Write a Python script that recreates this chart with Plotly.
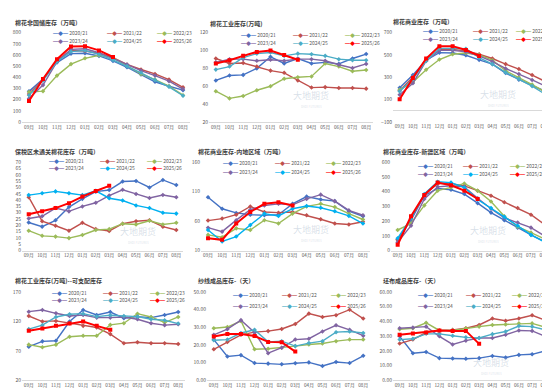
import plotly.graph_objects as go

months = ["09月", "10月", "11月", "12月", "01月", "02月", "03月", "04月", "05月", "06月", "07月", "08月"]
seasons = ["2020/21", "2021/22", "2022/23", "2023/24", "2024/25", "2025/26"]

# Panel 1: 棉花非国储库存（万吨）
p1 = {
    "2020/21": [274, 385, 532, 612, 615, 591, 547, 490, 425, 360, 320, 285],
    "2021/22": [250, 380, 550, 640, 635, 615, 575, 515, 470, 430, 380, 310],
    "2022/23": [268, 276, 415, 518, 570, 597, 576, 505, 430, 380, 320, 240],
    "2023/24": [210, 330, 540, 650, 655, 620, 570, 515, 460, 415, 365, 295],
    "2024/25": [240, 370, 540, 630, 640, 605, 555, 500, 440, 375, 315, 235],
    "2025/26": [188, 385, 562, 676, 679, 641, 582],
}
# Panel 2: 棉花工业库存(万吨)
p2 = {
    "2020/21": [66.5, 72, 72.7, 80, 93, 85.5, 91, 85.5, 86.7, 85, 91, 96],
    "2021/22": [91, 85.5, 86, 82, 77.5, 75, 66.5, 58.5, 59, 58, 58, 57.3],
    "2022/23": [54.4, 46.4, 49, 55.5, 60, 68.4, 70, 71, 85.5, 82, 76.8, 78.2],
    "2023/24": [86.7, 90.3, 90.3, 88.5, 89.6, 88.5, 90.3, 90.3, 88.5, 84, 80.4, 85],
    "2024/25": [78.6, 82, 92, 96.5, 97.7, 94, 96.5, 95.8, 94, 90.3, 89, 89],
    "2025/26": [85.5, 89, 94, 98.4, 100, 95, 89.6],
}
# Panel 3: 棉花商业库存（万吨）
p3 = {
    "2020/21": [206, 321, 453, 521, 518, 497, 456, 418, 338, 279, 226, 174],
    "2021/22": [182, 300, 462, 550, 550, 535, 506, 468, 418, 374, 320, 262],
    "2022/23": [188, 256, 368, 459, 506, 518, 500, 453, 359, 300, 235, 168],
    "2023/24": [144, 247, 447, 541, 541, 529, 491, 441, 379, 329, 276, 221],
    "2024/25": [174, 285, 447, 559, 559, 556, 476, 418, 344, 285, 221, 147],
    "2025/26": [103, 294, 468, 579, 579, 544, 491],
}
# Panel 4: 保税区未通关棉花库存（万吨）
p4 = {
    "2020/21": [22.3, 19, 24, 34.5, 41, 46.7, 48, 54.7, 55.2, 50, 56, 51.9],
    "2021/22": [42.3, 23.3, 19.7, 15.8, 22, 17, 15.6, 21.3, 23.3, 24, 19, 16.3],
    "2022/23": [15.8, 11.7, 11.1, 9.9, 12.4, 16.3, 17, 21.3, 20.7, 23.6, 20.7, 22],
    "2023/24": [25.4, 27.2, 33.7, 31.1, 35, 37.9, 43.6, 48.2, 44.9, 41.7, 44, 42.3],
    "2024/25": [44, 45.4, 46.9, 45.4, 44, 47.4, 41.5, 39.7, 35.8, 33.7, 30, 29.3],
    "2025/26": [28.8, 31.1, 33.7, 37.6, 42.8, 47.2, 51.3],
}
# Panel 5: 棉花商业库存-内地区域（万吨）
p5 = {
    "2020/21": [100.6, 81, 74, 71, 70, 71, 89.4, 101.7, 96.7, 94, 77, 68.3],
    "2021/22": [61, 64.4, 71, 85, 75.6, 74.4, 75.6, 70, 63.3, 56, 54.4, 59],
    "2022/23": [36.7, 32.8, 47.8, 45, 61.7, 56, 72.8, 85, 89.4, 83.9, 72.8, 62.8],
    "2023/24": [48.9, 42.2, 61.7, 79.4, 86.7, 89.4, 87.8, 97.8, 105, 94, 78.3, 70],
    "2024/25": [45, 25.6, 33.9, 53.3, 72.8, 68.9, 81.1, 85.6, 82.8, 76.7, 68.9, 56],
    "2025/26": [31.1, 28.3, 56, 75.6, 89.4, 92.2, 86.7],
}
# Panel 6: 棉花商业库存-新疆区域（万吨）
p6 = {
    "2020/21": [73, 207, 373, 422, 413, 384, 322, 258, 207, 156, 107, 62],
    "2021/22": [73, 218, 378, 455, 455, 440, 407, 373, 329, 289, 244, 178],
    "2022/23": [140, 184, 307, 407, 429, 456, 407, 333, 233, 162, 122, 80],
    "2023/24": [56, 169, 351, 433, 440, 433, 356, 284, 222, 191, 156, 100],
    "2024/25": [84, 218, 384, 467, 462, 429, 347, 289, 229, 169, 107, 58],
    "2025/26": [40, 233, 378, 462, 444, 407, 351],
}
# Panel 7: 棉花工业库存(万吨)--可支配库存
p7 = {
    "2020/21": [77, 86, 87, 119.6, 139.2, 130.8, 135.8, 125.2, 128, 126.3, 130.8, 135.8],
    "2021/22": [129, 119.6, 120.7, 116.8, 112.3, 109.5, 98.3, 82.7, 84.4, 82.7, 82.7, 81.6],
    "2022/23": [80.4, 76, 80.4, 93.9, 95.5, 95.5, 114, 116.8, 133, 127.4, 117.9, 127.4],
    "2023/24": [136.4, 139.2, 133.6, 129.1, 130.8, 126.3, 126.3, 127.4, 123.5, 116.8, 113.5, 115.1],
    "2024/25": [106.7, 113.5, 127.4, 131.9, 133, 128, 130.2, 129.1, 128, 123.5, 121.8, 116.2],
    "2025/26": [103.9, 107.9, 112.3, 116.2, 119.6, 112.3, 105.6],
}
# Panel 8: 纱线成品库存-（天）
p8 = {
    "2020/21": [23, 13.4, 14.2, 9.7, 9.4, 9, 9.6, 10.1, 8.1, 10.3, 9.7, 13.8],
    "2021/22": [17.5, 21.7, 25.7, 27.2, 27.8, 29, 31.8, 37.7, 35.8, 36.8, 39.9, 34.9],
    "2022/23": [29.4, 30.1, 33.5, 17.5, 17.8, 18.4, 19.3, 20.2, 20.8, 22.1, 23, 23],
    "2023/24": [25.7, 28.9, 34, 27, 15.3, 18.4, 23, 23.5, 27.6, 31.1, 28.5, 25.2],
    "2024/25": [22.6, 23, 26.7, 28.5, 21.7, 22.1, 19.3, 21, 22.1, 27.2, 27.6, 26.7],
    "2025/26": [24.8, 26.1, 26.1, 25, 21.7, 21.5, 16.2],
}
# Panel 9: 坯布成品库存-（天）
p9 = {
    "2020/21": [29.8, 18.3, 19.2, 15, 14.8, 14.6, 15, 16.5, 15.4, 17.2, 17.6, 19.9],
    "2021/22": [24.9, 27.6, 32.4, 33.8, 34.2, 35.3, 37.5, 41.9, 40.4, 41.9, 44.1, 40.8],
    "2022/23": [34.6, 35.3, 39, 33.8, 33.8, 35.3, 36.4, 37.5, 37.9, 38.6, 38.6, 36],
    "2023/24": [35.3, 35.7, 36.4, 29.8, 24.3, 26.9, 28.7, 28.7, 30.9, 33.8, 33.5, 29.8],
    "2024/25": [27.6, 28.2, 31.5, 31.5, 30.2, 29.1, 28.7, 31.3, 33.1, 36.8, 36.4, 34.2],
    "2025/26": [30.9, 31.8, 32.4, 33.8, 33.5, 33.5, 24.7],
}

titles = ["棉花非国储库存（万吨）", "棉花工业库存(万吨)", "棉花商业库存（万吨）",
          "保税区未通关棉花库存（万吨）", "棉花商业库存-内地区域（万吨）", "棉花商业库存-新疆区域（万吨）",
          "棉花工业库存(万吨)--可支配库存", "纱线成品库存-（天）", "坯布成品库存-（天）"]
datasets = [p1, p2, p3, p4, p5, p6, p7, p8, p9]

colors = ["#4472C4", "#C0504D", "#9BBB59", "#8064A2", "#4BACC6", "#FF0000"]
bright_cyan = "#00B0F0"

W, H = 550, 388
FONT = "Noto Sans CJK SC, Noto Sans, sans-serif"

# layout geometry (pixels)
xdoms = [(14, 182), (201, 365), (385, 544),
         (14, 175), (193, 362), (383, 543),
         (14, 177), (199, 362), (385, 544)]
ydoms = [(21, 112), (153, 243), (285, 375)]
yranges = [(0, 800), (20, 120), (-100, 700), (0, 70), (10, 160), (0, 600), (20, 170), (0, 50), (0, 60)]
ydticks = [100, 20, 200, 5, 50, 100, 50, 10, 10]
title_pos = [(5, 11), (200, 12), (383, 10), (5, 142), (188, 142), (373, 142), (5, 273), (188, 273), (373, 273)]
leg_cols = [(29, 83, 133), (30, 82, 134), (28, 78, 121), (25, 76, 123), (20, 72, 123),
            (25, 70, 117), (28, 79, 126), (24, 73, 122), (23, 71, 117)]
leg_rows = [(21, 29), (23, 31), (19, 27), (151, 158), (153, 162), (156, 164), (286, 293), (288, 299), (288, 299)]
watermarks = {1: (303, 92), 2: (490, 91), 3: (130, 230), 4: (303, 228), 5: (480, 229), 8: (483, 364)}


def px(x):
    return x / W


def py(y):
    return 1 - y / H


fig = go.Figure()
annotations = []
layout_axes = {}

for k, data in enumerate(datasets):
    sfx = "" if k == 0 else str(k + 1)
    cols = list(colors)
    if k in (3, 4, 5):
        cols[4] = bright_cyan
    for i, s in enumerate(seasons):
        vals = data[s]
        is_red = (i == 5)
        fig.add_trace(go.Scatter(
            x=months[:len(vals)], y=vals, name=s, mode="lines+markers",
            line=dict(color=cols[i], width=2.0 if is_red else 1.4),
            marker=dict(color=cols[i], size=4 if is_red else 3.5,
                        symbol="square" if is_red else "diamond"),
            xaxis="x" + sfx, yaxis="y" + sfx, showlegend=False,
        ))
    x0, x1 = xdoms[k]
    yt, yb = ydoms[k // 3]
    lo, hi = yranges[k]
    dt = ydticks[k]
    tickvals = []
    v = lo
    while v <= hi + 1e-9:
        tickvals.append(v)
        v += dt
    fmt = ".2f" if k in (7, 8) else ""
    layout_axes["xaxis" + sfx] = dict(
        domain=[px(x0), px(x1)], anchor="y" + sfx, type="category",
        categoryorder="array", categoryarray=months, range=[-0.5, 11.5],
        showgrid=False, zeroline=False, showline=(k != 2), linecolor="#D9D9D9", linewidth=1,
        ticks="", tickfont=dict(size=4.7, color="#595959", family=FONT), fixedrange=True,
    )
    layout_axes["yaxis" + sfx] = dict(
        domain=[py(yb), py(yt)], anchor="x" + sfx, range=[lo, hi],
        tickvals=tickvals, tickformat=fmt, showgrid=False,
        zeroline=(k == 2), zerolinecolor="#D9D9D9", zerolinewidth=1,
        showline=False, ticks="", tickfont=dict(size=5, color="#595959", family=FONT),
        fixedrange=True,
    )
    # title
    tx, ty = title_pos[k]
    annotations.append(dict(text="<b>" + titles[k] + "</b>", x=px(tx), y=py(ty), xref="paper", yref="paper",
                            xanchor="left", yanchor="middle", showarrow=False,
                            font=dict(size=6, color="#404040", family=FONT)))
    # legend entries
    for i, s in enumerate(seasons):
        lx = x0 + leg_cols[k][i % 3]
        ly = leg_rows[k][i // 3]
        annotations.append(dict(
            text='<span style="color:%s">━◆━</span> %s' % (cols[i], s),
            x=px(lx), y=py(ly), xref="paper", yref="paper", xanchor="left", yanchor="middle",
            showarrow=False, font=dict(size=5, color="#595959", family=FONT)))
    if k in watermarks:
        wx, wy = watermarks[k]
        annotations.append(dict(text="大地期货", x=px(wx), y=py(wy + 1), xref="paper", yref="paper",
                                xanchor="center", yanchor="bottom", borderpad=0,
                                showarrow=False, font=dict(size=9, color="rgba(170,185,205,0.45)", family=FONT)))
        annotations.append(dict(text="DADI FUTURES", x=px(wx), y=py(wy + 2), xref="paper", yref="paper",
                                xanchor="center", yanchor="top", borderpad=0,
                                showarrow=False, font=dict(size=3, color="rgba(170,185,205,0.45)", family=FONT)))

fig.update_layout(
    width=W, height=H, margin=dict(l=0, r=0, t=0, b=0),
    paper_bgcolor="white", plot_bgcolor="white",
    annotations=annotations, font=dict(family=FONT),
    **layout_axes,
)

fig.write_html("out.html")
